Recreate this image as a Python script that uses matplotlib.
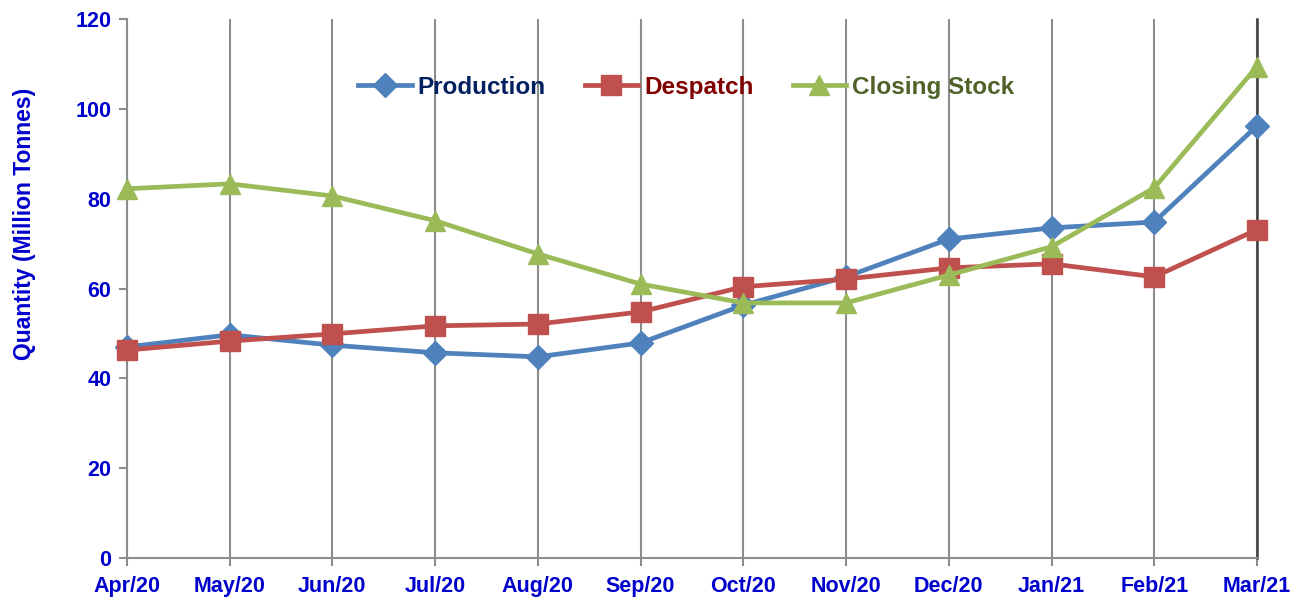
import matplotlib
matplotlib.use("Agg")
import matplotlib.pyplot as plt

months = ["Apr/20", "May/20", "Jun/20", "Jul/20", "Aug/20", "Sep/20",
          "Oct/20", "Nov/20", "Dec/20", "Jan/21", "Feb/21", "Mar/21"]
production = [47.0, 49.7, 47.4, 45.7, 44.8, 47.9, 56.3, 62.6, 71.0, 73.5, 74.8, 96.2]
despatch = [46.3, 48.3, 49.9, 51.7, 52.1, 54.8, 60.4, 62.1, 64.6, 65.5, 62.6, 73.1]
closing_stock = [82.2, 83.3, 80.6, 75.1, 67.7, 61.0, 56.8, 56.8, 63.0, 69.3, 82.4, 109.4]

plt.rcParams["font.family"] = ["Liberation Sans", "DejaVu Sans"]
plt.rcParams["font.weight"] = "bold"

BLUE = "#0000CC"

fig = plt.figure(figsize=(13.08, 6.10), dpi=100)
ax = fig.add_axes([0.097, 0.085, 0.864, 0.884])

x = list(range(len(months)))
ax.plot(x, production, color="#4F81BD", lw=3.4, marker="D", ms=12,
        label="Production", clip_on=False, zorder=3)
ax.plot(x, despatch, color="#C0504D", lw=3.4, marker="s", ms=15,
        label="Despatch", clip_on=False, zorder=4)
ax.plot(x, closing_stock, color="#9BBB59", lw=3.4, marker="^", ms=15,
        label="Closing Stock", clip_on=False, zorder=5)

ax.set_xlim(0, len(months) - 1)
ax.set_ylim(0, 120)
ax.set_xticks(x)
ax.set_xticklabels(months)
ax.set_yticks(range(0, 121, 20))

# vertical grid at each month
ax.grid(axis="x", color="#8C8C8C", lw=1.5)
ax.set_axisbelow(True)

ax.spines["top"].set_visible(False)
ax.spines["right"].set_color("#404040")
ax.spines["right"].set_linewidth(1.8)
for s in ["left", "bottom"]:
    ax.spines[s].set_color("#8C8C8C")
    ax.spines[s].set_linewidth(1.5)

ax.tick_params(axis="both", colors="#8C8C8C", labelcolor=BLUE,
               labelsize=15.5, length=6, width=1.5)
ax.tick_params(axis="x", pad=7)
ax.tick_params(axis="y", pad=5)
for lab in ax.get_xticklabels() + ax.get_yticklabels():
    lab.set_fontweight("bold")

ax.set_ylabel("Quantity (Million Tonnes)", color=BLUE, fontsize=16.5,
              fontweight="bold")
ax.yaxis.set_label_coords(-0.08, 0.62)

leg = ax.legend(loc="upper center", bbox_to_anchor=(0.495, 0.935), ncol=3,
                frameon=False, fontsize=17.5, handlelength=2.2,
                columnspacing=1.6, handletextpad=0.25)
for t, c in zip(leg.get_texts(), ["#002060", "#800000", "#4F6228"]):
    t.set_color(c)
    t.set_fontweight("bold")

fig.savefig("out.png", dpi=100)
